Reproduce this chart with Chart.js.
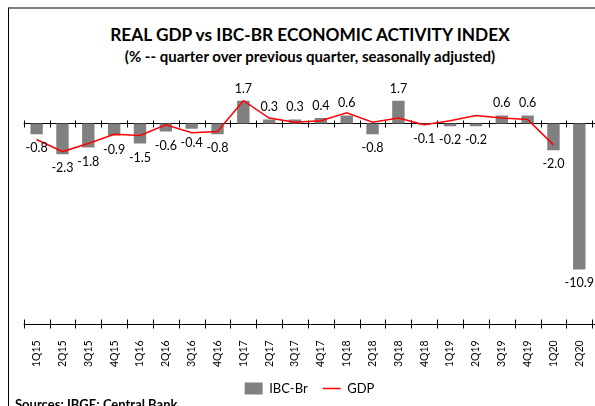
<!DOCTYPE html>
<html><head><meta charset="utf-8">
<script src="https://cdn.jsdelivr.net/npm/chart.js@4.4.1/dist/chart.umd.min.js"></script>
<style>
html,body{margin:0;padding:0;background:#fff;overflow:hidden;width:595px;height:406px;position:relative;}
#frame{position:absolute;left:8px;top:7px;width:620px;height:430px;border-top:2px solid #808080;border-left:1px solid #000;}
.t{position:absolute;left:0;width:620px;text-align:center;font-family:Lato,sans-serif;font-weight:bold;color:#000;white-space:nowrap;line-height:1;}
#title{top:26px;font-size:17.3px;}
#sub{top:49px;font-size:15px;}
#src{position:absolute;left:15px;top:398px;font-family:Lato,sans-serif;font-weight:bold;font-size:13px;line-height:1;white-space:nowrap;}
#wrap{position:absolute;left:10px;top:70px;width:590px;height:336px;}
</style></head>
<body>
<div id="frame"></div>
<div class="t" id="title">REAL GDP vs IBC-BR ECONOMIC ACTIVITY INDEX</div>
<div class="t" id="sub">(% -- quarter over previous quarter, seasonally adjusted)</div>
<div id="wrap"><canvas id="c" width="590" height="336"></canvas></div>
<div id="src">Sources: IBGE; Central Bank</div>
<script>
const categories = ['1Q15','2Q15','3Q15','4Q15','1Q16','2Q16','3Q16','4Q16','1Q17','2Q17','3Q17','4Q17','1Q18','2Q18','3Q18','4Q18','1Q19','2Q19','3Q19','4Q19','1Q20','2Q20'];
const ibcBr = [-0.8,-2.3,-1.8,-0.9,-1.5,-0.6,-0.4,-0.8,1.7,0.3,0.3,0.4,0.6,-0.8,1.7,-0.1,-0.2,-0.2,0.6,0.6,-2.0,-10.9];
const gdp = [-1.2,-2.1,-1.5,-0.8,-0.9,-0.1,-0.7,-0.6,1.7,0.4,0.1,0.2,0.8,0.1,0.4,-0.1,0.2,0.6,0.4,0.3,-1.6,null];
const yMin = -15, yMax = 3;

const axesPlugin = {
  id: 'axesLines',
  beforeDatasetsDraw(chart) {
    const {ctx, chartArea: a, scales: {x, y}} = chart;
    const y0 = Math.round(y.getPixelForValue(0)) + 0.5;
    const yb = Math.round(y.getPixelForValue(yMin)) + 0.5;
    ctx.save();
    ctx.strokeStyle = '#000';
    ctx.lineWidth = 1;
    ctx.beginPath();
    ctx.moveTo(a.left, y0); ctx.lineTo(a.right + 5, y0);
    ctx.moveTo(a.left, yb); ctx.lineTo(a.right + 5, yb);
    for (let i = 0; i <= categories.length; i++) {
      const px = Math.round(x.getPixelForValue(i - 0.5)) + 0.5;
      ctx.moveTo(px, y0 - 3); ctx.lineTo(px, y0 + 4);
      ctx.moveTo(px, yb - 5); ctx.lineTo(px, yb + 4);
    }
    ctx.stroke();
    ctx.restore();
  },
  afterDatasetsDraw(chart) {
    const {ctx} = chart;
    const meta = chart.getDatasetMeta(0);
    ctx.save();
    ctx.font = '12.5px Lato, sans-serif';
    ctx.fillStyle = '#000';
    ctx.textAlign = 'center';
    ctx.textBaseline = 'middle';
    meta.data.forEach((el, i) => {
      const v = ibcBr[i];
      const ty = v >= 0 ? el.y - 12 : el.y + 14;
      ctx.fillText(v.toFixed(1), el.x, ty);
    });
    ctx.restore();
  }
};

new Chart(document.getElementById('c'), {
  type: 'bar',
  data: {
    labels: categories,
    datasets: [
      {label: 'IBC-Br', data: ibcBr, backgroundColor: '#808080', borderWidth: 0,
       categoryPercentage: 1, barPercentage: 0.48, order: 2, pointStyle: 'rect'},
      {type: 'line', label: 'GDP', data: gdp, borderColor: '#ff0000', backgroundColor: '#ff0000',
       borderWidth: 1.5, pointRadius: 0, tension: 0, spanGaps: false, order: 1, pointStyle: 'line'}
    ]
  },
  options: {
    responsive: false,
    devicePixelRatio: 1,
    animation: false,
    layout: {padding: {left: 13.7, right: 4.7, top: 13.3, bottom: 1}},
    plugins: {
      legend: {
        position: 'bottom',
        labels: {
          usePointStyle: true, pointStyleWidth: 18, boxHeight: 12,
          padding: 15, color: '#000', font: {family: 'Lato', size: 13},
          sort: (a, b) => a.datasetIndex - b.datasetIndex
        }
      },
      tooltip: {enabled: false}
    },
    scales: {
      y: {display: false, min: yMin, max: yMax},
      x: {
        grid: {display: false}, border: {display: false},
        ticks: {minRotation: 90, maxRotation: 90, autoSkip: false, padding: 8,
                color: '#000', font: {family: 'Lato', size: 10.5}},
        afterFit(s) { s.height = 42.7; }
      }
    }
  },
  plugins: [axesPlugin]
});
</script>
</body></html>
